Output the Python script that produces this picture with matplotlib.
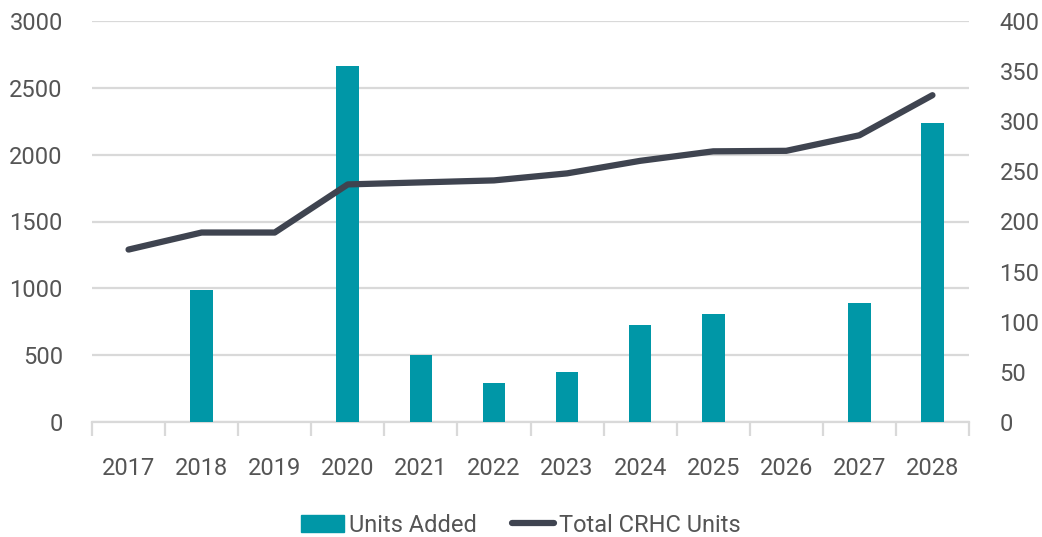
import numpy as np
import matplotlib.pyplot as plt
from matplotlib.lines import Line2D
from matplotlib.patches import Patch

plt.rcParams['font.family'] = ['Roboto', 'DejaVu Sans']

years = ['2017', '2018', '2019', '2020', '2021', '2022', '2023', '2024', '2025', '2026', '2027', '2028']
units_added = [0, 985, 0, 2660, 500, 295, 377, 724, 806, 0, 889, 2234]
total_units = [172, 189, 189, 237, 239, 241, 248, 260.5, 270, 270.5, 286, 326]

bar_color = '#0097a7'
line_color = '#3f4450'
grid_color = '#d9d9d9'
text_color = '#555555'

fig = plt.figure(figsize=(10.42, 5.37), dpi=100)
ax = fig.add_axes([92 / 1042, 115 / 537, (969 - 92) / 1042, (422 - 21) / 537])
ax2 = ax.twinx()

x = np.arange(len(years))
ax.bar(x, units_added, width=0.31, color=bar_color, zorder=3)
ax2.plot(x, total_units, color=line_color, lw=4.5, solid_capstyle='round', solid_joinstyle='round', zorder=4)

ax.set_xlim(-0.5, len(years) - 0.5)
ax.set_ylim(0, 3000)
ax2.set_ylim(0, 400)
ax.set_yticks(np.arange(0, 3001, 500))
ax2.set_yticks(np.arange(0, 401, 50))

ax.yaxis.grid(True, color=grid_color, lw=1.6, zorder=0)
ax.set_axisbelow(True)

for a in (ax, ax2):
    for s in a.spines.values():
        s.set_visible(False)
ax.spines['bottom'].set_visible(True)
ax.spines['bottom'].set_color(grid_color)
ax.spines['bottom'].set_linewidth(1.6)

# category labels centred, tick marks on boundaries
ax.set_xticks(x)
ax.set_xticklabels(years)
ax.tick_params(axis='x', length=0, pad=25, labelsize=17, colors=text_color)
ax.set_xticks(np.arange(-0.5, len(years), 1), minor=True)
ax.tick_params(axis='x', which='minor', length=10, width=1.6, color=grid_color)

ax.tick_params(axis='y', length=0, pad=21, labelsize=17, colors=text_color)
ax2.tick_params(axis='y', length=0, pad=22, labelsize=17, colors=text_color)

handles = [Patch(color=bar_color, label='Units Added'),
           Line2D([0], [0], color=line_color, lw=4.5, solid_capstyle='round', label='Total CRHC Units')]
fig.legend(handles=handles, loc='center', bbox_to_anchor=(0.5, 1 - 525 / 537), ncol=2, frameon=False,
           fontsize=17, labelcolor=text_color, handlelength=1.8, handletextpad=0.2, columnspacing=1.5)

fig.savefig('out.png', dpi=100)
